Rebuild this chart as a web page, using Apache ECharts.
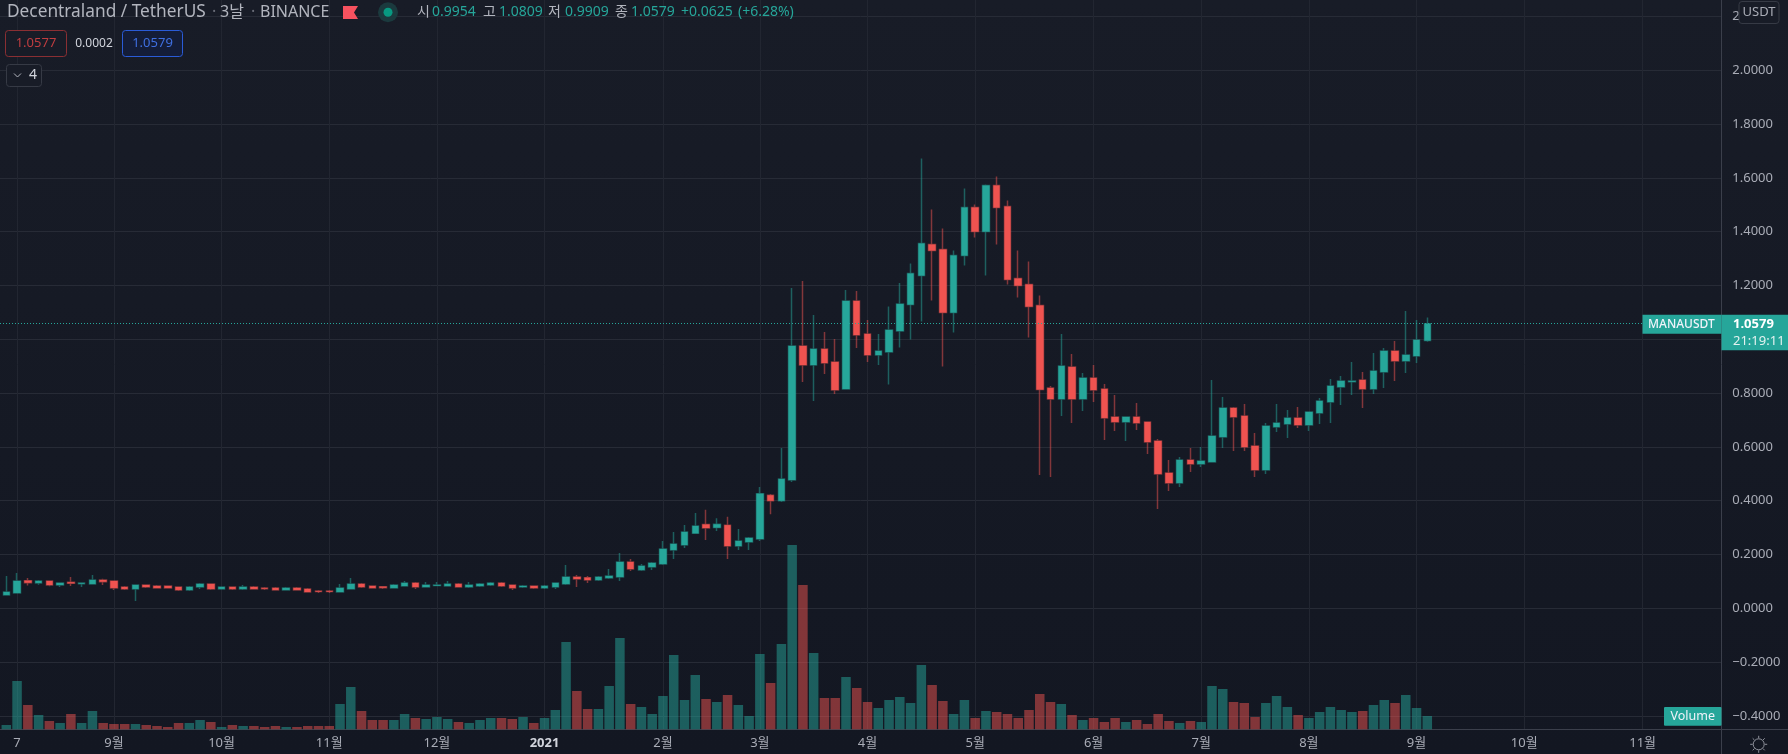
<!DOCTYPE html>
<html>
<head>
<meta charset="utf-8">
<title>MANAUSDT</title>
<script src="https://cdn.jsdelivr.net/npm/echarts@6/dist/echarts.min.js"></script>
<style>
  html, body { margin: 0; padding: 0; background: #131722; }
  #chart { width: 1788px; height: 754px; }
</style>
</head>
<body>
<div id="chart"></div>
<script>
// 3-day candles
const opens = [
  0.0496,0.0570,0.1028,0.0942,0.1016,0.0867,0.0967,0.0917,0.0905,0.1053,
  0.1016,0.0793,0.0719,0.0867,0.0830,0.0830,0.0793,0.0682,0.0793,0.0905,
  0.0719,0.0793,0.0719,0.0793,0.0756,0.0756,0.0682,0.0756,0.0719,0.0644,
  0.0644,0.0607,0.0719,0.0905,0.0830,0.0805,0.0756,0.0830,0.0942,0.0793,
  0.0843,0.0830,0.0905,0.0793,0.0830,0.0867,0.0942,0.0867,0.0793,0.0830,
  0.0756,0.0793,0.0905,0.1165,0.1140,0.1053,0.1128,0.1165,0.1722,0.1425,
  0.1537,0.1648,0.2169,0.2354,0.2788,0.3115,0.3000,0.3090,0.2317,0.2466,
  0.2577,0.4200,0.4000,0.4768,0.9750,0.9043,0.9638,0.9155,0.8151,1.1423,
  1.0196,0.9415,0.9527,1.0307,1.1291,1.2369,1.3522,1.3336,1.0994,1.3113,
  1.4897,1.4005,1.5715,1.4934,1.2258,1.2035,1.1254,0.8188,0.7779,0.8969,
  0.7782,0.8563,0.8154,0.7113,0.6927,0.7113,0.6927,0.6221,0.5031,0.4659,
  0.5514,0.5366,0.5440,0.6369,0.7447,0.7150,0.6035,0.5142,0.6741,0.6853,
  0.7076,0.6815,0.7261,0.7670,0.8228,0.8426,0.8488,0.8154,0.8786,0.9566,
  0.9195,0.9380,0.9954
];
const closes = [
  0.0607,0.1016,0.0954,0.1016,0.0867,0.0942,0.0929,0.0942,0.1053,0.0991,
  0.0756,0.0719,0.0867,0.0793,0.0756,0.0756,0.0682,0.0793,0.0905,0.0719,
  0.0793,0.0719,0.0793,0.0719,0.0731,0.0682,0.0756,0.0682,0.0607,0.0620,
  0.0620,0.0756,0.0905,0.0793,0.0756,0.0768,0.0867,0.0942,0.0793,0.0867,
  0.0867,0.0905,0.0793,0.0867,0.0905,0.0942,0.0830,0.0756,0.0830,0.0756,
  0.0830,0.0942,0.1165,0.1090,0.1053,0.1165,0.1202,0.1722,0.1462,0.1574,
  0.1685,0.2206,0.2392,0.2838,0.3060,0.2985,0.3120,0.2317,0.2503,0.2615,
  0.4260,0.4000,0.4805,0.9750,0.9043,0.9638,0.9118,0.8114,1.1423,1.0159,
  0.9415,0.9564,1.0345,1.1311,1.2444,1.3559,1.3299,1.0994,1.3113,1.4897,
  1.4005,1.5715,1.4897,1.2221,1.1998,1.1217,0.8131,0.7779,0.9006,0.7779,
  0.8563,0.8116,0.7076,0.6927,0.7113,0.6890,0.6183,0.4994,0.4659,0.5514,
  0.5366,0.5477,0.6406,0.7447,0.7113,0.5997,0.5142,0.6778,0.6890,0.7076,
  0.6815,0.7299,0.7708,0.8265,0.8451,0.8451,0.8154,0.8823,0.9566,0.9195,
  0.9418,0.9975,1.0579
];
const highs = [
  0.1200,0.1310,0.1128,0.1053,0.1016,0.0942,0.1165,0.0942,0.1239,0.1103,
  0.1016,0.0830,0.0867,0.0867,0.0867,0.0830,0.0793,0.0830,0.0942,0.0905,
  0.0793,0.0793,0.0867,0.0830,0.0793,0.0793,0.0793,0.0793,0.0756,0.0682,
  0.0682,0.0905,0.1128,0.0942,0.0830,0.0830,0.0905,0.1016,0.0979,0.0979,
  0.0979,0.1016,0.0942,0.0979,0.0942,0.0979,0.0979,0.0867,0.0867,0.0830,
  0.0867,0.0942,0.1611,0.1239,0.1202,0.1202,0.1462,0.2057,0.1834,0.1648,
  0.1722,0.2503,0.2838,0.3100,0.3540,0.3666,0.3350,0.3400,0.2950,0.2652,
  0.4510,0.4250,0.5957,1.1906,1.2166,1.0902,1.0270,1.0010,1.1832,1.1794,
  1.0716,1.0196,1.1217,1.2097,1.2815,1.6719,1.4823,1.4116,1.3299,1.5603,
  1.5009,1.5752,1.6050,1.5157,1.3299,1.2890,1.1626,0.8263,1.0196,0.9452,
  0.8748,0.9046,0.8340,0.7931,0.7138,0.7633,0.6927,0.6295,0.5514,0.5626,
  0.5960,0.5997,0.8488,0.7856,0.7484,0.7596,0.6518,0.6890,0.7596,0.7373,
  0.7485,0.7299,0.7819,0.8525,0.8637,0.9157,0.8786,0.9492,0.9678,0.9938,
  1.1053,1.0719,1.0809
];
const lows = [
  0.0496,0.0545,0.0843,0.0880,0.0818,0.0793,0.0830,0.0793,0.0905,0.0867,
  0.0682,0.0682,0.0273,0.0756,0.0756,0.0756,0.0644,0.0644,0.0719,0.0682,
  0.0719,0.0682,0.0682,0.0719,0.0682,0.0682,0.0682,0.0682,0.0607,0.0570,
  0.0570,0.0607,0.0719,0.0756,0.0756,0.0719,0.0756,0.0830,0.0719,0.0793,
  0.0830,0.0830,0.0793,0.0756,0.0793,0.0830,0.0793,0.0682,0.0756,0.0719,
  0.0719,0.0719,0.0867,0.0793,0.0942,0.1016,0.1090,0.1016,0.1388,0.1388,
  0.1425,0.1611,0.1834,0.2243,0.2788,0.2538,0.2875,0.1834,0.2168,0.2169,
  0.2503,0.3500,0.3950,0.4694,0.8411,0.7705,0.8709,0.7965,0.8151,0.9675,
  0.9155,0.9043,0.8317,0.9693,0.9990,1.0659,1.1440,0.8986,1.0250,1.2741,
  1.3782,1.2369,1.3522,1.2035,1.1551,1.0064,0.4954,0.4880,0.7147,0.6887,
  0.7336,0.7670,0.6258,0.6592,0.6221,0.6630,0.5737,0.3693,0.4362,0.4510,
  0.5068,0.5254,0.5440,0.5960,0.5849,0.5849,0.4882,0.4994,0.6555,0.6332,
  0.6704,0.6592,0.6853,0.6890,0.7559,0.7931,0.7447,0.7968,0.8191,0.8451,
  0.8748,0.9120,0.9909
];
// volume pane has no scale in the picture, so these are in its own units
const volumes = [
  4.3,48.3,24.3,14.3,8.3,6.3,15.3,6.3,18.3,6.3,
  5.3,5.3,5.3,4.3,3.3,2.3,6.3,6.3,9.3,7.3,
  2.3,4.3,3.3,3.3,2.3,3.3,2.3,2.3,3.3,3.3,
  3.3,25.3,42.3,18.3,9.3,9.3,9.3,15.3,11.3,10.3,
  12.3,10.3,7.3,6.3,9.3,11.3,11.3,10.3,12.3,6.3,
  11.3,19.3,87.3,38.3,20.3,20.3,43.3,91.3,25.3,22.3,
  15.3,33.3,74.3,29.3,54.3,30.3,27.3,34.3,24.3,13.3,
  75.3,46.3,85.3,184.3,144.3,76.3,31.3,31.3,52.3,41.3,
  27.3,21.3,29.3,32.3,26.3,64.3,44.3,28.3,15.3,29.3,
  11.3,18.3,17.3,15.3,11.3,19.3,35.3,27.3,25.3,14.3,
  9.3,11.3,7.3,11.3,7.3,9.3,5.3,15.3,8.3,6.3,
  8.3,7.3,43.3,40.3,27.3,26.3,12.3,26.3,33.3,22.3,
  14.3,11.3,17.3,22.3,19.3,17.3,18.3,24.3,29.3,26.3,
  34.3,21.3,13.3
];
const timeTicks = [1, 10, 20, 30, 40, 50, 61, 70, 80, 90, 101, 111, 121, 131, 141, 152];
const timeLabels = ["7", "9월", "10월", "11월", "12월", "2021", "2월", "3월", "4월", "5월", "6월", "7월", "8월", "9월", "10월", "11월"];
const priceTicks = [-0.4, -0.2, 0, 0.2, 0.4, 0.6, 0.8, 1.0, 1.2, 1.4, 1.6, 1.8, 2.0, 2.2];
const lastPrice = 1.0579;

const UP = "#26a69a";
const DOWN = "#ef5350";
const UP_DIM = "rgba(38,166,154,0.5)";
const DOWN_DIM = "rgba(239,83,80,0.5)";
const FONT = "'Noto Sans','Noto Sans CJK KR',sans-serif";
const AXIS_LINE = "#3b3f4b";
const TEXT = "#a9acb6";

const wickData = opens.map((o, i) => [i, o, closes[i], lows[i], highs[i]]);
const bodyData = opens.map((o, i) => [i, o, closes[i], Math.min(o, closes[i]), Math.max(o, closes[i])]);
const volumeData = volumes.map((v, i) => [i, v]);

const chart = echarts.init(document.getElementById("chart"));

chart.setOption({
  animation: false,
  backgroundColor: {
    type: "linear", x: 0, y: 0, x2: 0, y2: 1,
    colorStops: [{ offset: 0, color: "#181c27" }, { offset: 1, color: "#131722" }]
  },
  grid: { left: 0, right: 66.7, top: 0, bottom: 24.7 },
  xAxis: {
    type: "value",
    min: -0.585,
    max: 159.31,
    axisLine: { show: true, onZero: false, lineStyle: { color: AXIS_LINE } },
    axisTick: { show: false, customValues: timeTicks },
    splitLine: { show: true, lineStyle: { color: "#222631" } },
    axisLabel: {
      customValues: timeTicks,
      margin: 7,
      color: TEXT,
      fontFamily: FONT,
      fontSize: 13,
      formatter: (v) => {
        const label = timeLabels[timeTicks.indexOf(v)];
        return label === "2021" ? `{year|${label}}` : label;
      },
      rich: { year: { fontFamily: FONT, fontSize: 13, fontWeight: "bold", color: "#d1d4dc" } }
    }
  },
  yAxis: [
    {
      type: "value",
      position: "right",
      min: -0.4498,
      max: 2.2613,
      axisLine: { show: true, onZero: false, lineStyle: { color: AXIS_LINE } },
      axisTick: { show: false, customValues: priceTicks },
      splitLine: { show: true, lineStyle: { color: "#272b36" } },
      axisLabel: {
        customValues: priceTicks,
        margin: 11,
        color: TEXT,
        fontFamily: FONT,
        fontSize: 13,
        formatter: (v) => (v < 0 ? "\u2212" : "") + Math.abs(v).toFixed(4)
      }
    },
    { type: "value", min: 0, max: 729.3, show: false }
  ],
  series: [
    {
      name: "Volume",
      type: "bar",
      yAxisIndex: 1,
      barWidth: 9.5,
      silent: true,
      data: volumeData,
      itemStyle: { color: (p) => (closes[p.dataIndex] >= opens[p.dataIndex] ? UP_DIM : DOWN_DIM) }
    },
    {
      name: "wicks",
      type: "candlestick",
      barWidth: 7,
      silent: true,
      data: wickData,
      itemStyle: { color: UP_DIM, color0: DOWN_DIM, borderColor: UP_DIM, borderColor0: DOWN_DIM, borderWidth: 1.5 }
    },
    {
      name: "MANAUSDT",
      type: "candlestick",
      barWidth: 7,
      silent: true,
      data: bodyData,
      itemStyle: { color: UP, color0: DOWN, borderColor: UP, borderColor0: DOWN, borderWidth: 0 },
      markLine: {
        silent: true,
        symbol: ["none", "none"],
        label: { show: false },
        lineStyle: { color: UP, width: 1, type: [1, 2] },
        data: [{ yAxis: lastPrice }]
      }
    }
  ]
});

function txt(text, x, y, fill, size, opts) {
  return {
    type: "text",
    z: 20,
    style: {
      text, x, y, fill,
      font: `${(opts && opts.weight) || "normal"} ${size}px ${FONT}`,
      align: (opts && opts.align) || "left",
      verticalAlign: "middle"
    }
  };
}

function box(x, y, w, h, fill, stroke, r) {
  return {
    type: "rect",
    z: 19,
    shape: { x, y, width: w, height: h, r: r || 0 },
    style: { fill, stroke: stroke || null, lineWidth: stroke ? 1 : 0 }
  };
}

function seg(x1, y1, x2, y2, stroke) {
  return { type: "line", z: 19, shape: { x1, y1, x2, y2 }, style: { stroke, lineWidth: 1 } };
}

const priceY = chart.convertToPixel({ yAxisIndex: 0 }, lastPrice);
const axisX = 1721.5;
const sunX = 1758.7, sunY = 744.3;
const sunRays = [[0, -8.5, 0, -6], [0, 6, 0, 8.5], [-8.5, 0, -6, 0], [6, 0, 8.5, 0], [-6, -6, -4.2, -4.2], [4.2, 4.2, 6, 6], [-6, 6, -4.2, 4.2], [4.2, -4.2, 6, -6]];

chart.setOption({
  graphic: [
    // legend rows
    txt("Decentraland / TetherUS", 7, 12, "#b2b5be", 17.3),
    txt("·", 212, 12, "#6a6d78", 16),
    txt("3날", 220, 12, "#b2b5be", 16),
    txt("·", 251, 12, "#6a6d78", 16),
    txt("BINANCE", 260, 12, "#b2b5be", 16),
    { type: "polygon", z: 20, shape: { points: [[343, 6], [358, 6], [354, 12.5], [358, 19], [343, 19]] }, style: { fill: "#f7525f" } },
    { type: "circle", z: 20, shape: { cx: 388, cy: 12.3, r: 10 }, style: { fill: "#1b3a3e" } },
    { type: "circle", z: 20, shape: { cx: 388, cy: 12.3, r: 4.5 }, style: { fill: "#089981" } },
    txt("시", 417, 12, "#b2b5be", 14),
    txt("0.9954", 432, 12, UP, 14),
    txt("고", 483, 12, "#b2b5be", 14),
    txt("1.0809", 499, 12, UP, 14),
    txt("저", 548, 12, "#b2b5be", 14),
    txt("0.9909", 565, 12, UP, 14),
    txt("종", 615, 12, "#b2b5be", 14),
    txt("1.0579", 631, 12, UP, 14),
    txt("+0.0625", 681, 12, UP, 14),
    txt("(+6.28%)", 738, 12, UP, 14),
    box(5.5, 30.5, 61, 26, "#181c27", "#8a2f33", 3),
    txt("1.0577", 36, 43.5, "#c03d40", 13, { align: "center" }),
    txt("0.0002", 94, 43.5, "#d1d4dc", 12, { align: "center" }),
    box(122.5, 30.5, 60, 26, "#141d38", "#2a5bd7", 3),
    txt("1.0579", 152.5, 43.5, "#3f6fe0", 13, { align: "center" }),
    box(6.5, 64.5, 35, 22, "#181c27", "#363a45", 3),
    { type: "polyline", z: 20, shape: { points: [[14, 73.5], [17.5, 77], [21, 73.5]] }, style: { stroke: "#b2b5be", lineWidth: 1, fill: null } },
    txt("4", 33, 75.5, "#d1d4dc", 14, { align: "center" }),
    // right scale furniture
    seg(axisX, 729.5, axisX, 754, AXIS_LINE),
    seg(axisX, 729.5, 1788, 729.5, AXIS_LINE),
    box(1739, 1.5, 40, 22, "#181c27", "#363a45", 3),
    txt("USDT", 1759, 12.5, "#a9acb6", 13, { align: "center" }),
    box(1642.5, priceY - 9, 79, 19, UP),
    txt("MANAUSDT", 1648, priceY + 0.8, "#f0f3fa", 12, { weight: "500" }),
    box(axisX, priceY - 9, 66.5, 35.5, UP),
    txt("1.0579", 1733, priceY + 0.8, "#ffffff", 13, { weight: "bold" }),
    txt("21:19:11", 1733, priceY + 17.2, "#e3f2f0", 13),
    box(1664, 707, 57.5, 18.7, UP, null, 1),
    txt("Volume", 1692.7, 716.5, "#f0f3fa", 12.5, { align: "center" }),
    { type: "circle", z: 20, shape: { cx: sunX, cy: sunY, r: 5.5 }, style: { fill: null, stroke: "#8f929c", lineWidth: 1 } }
  ].concat(sunRays.map((r) => seg(sunX + r[0], sunY + r[1], sunX + r[2], sunY + r[3], "#8f929c")))
});

window.addEventListener("resize", () => chart.resize());
</script>
</body>
</html>
